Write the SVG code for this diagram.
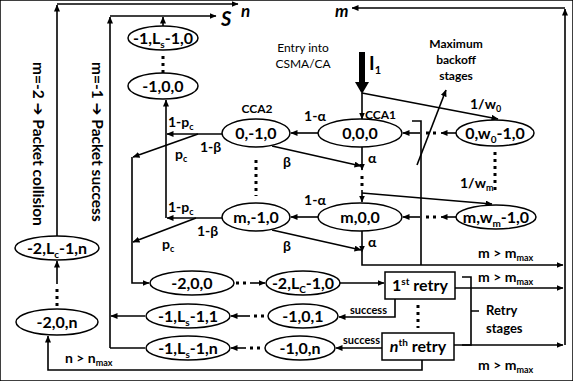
<svg xmlns="http://www.w3.org/2000/svg" width="573" height="381" viewBox="0 0 573 381">
<defs>
<marker id="a" markerWidth="7" markerHeight="6" refX="6.5" refY="3" orient="auto" markerUnits="userSpaceOnUse"><path d="M0,0 L7,3 L0,6 z" fill="#000"/></marker>
<style>
.ln{stroke:#000;stroke-width:1.6;fill:none}
.ar{stroke:#000;stroke-width:1.6;fill:none;marker-end:url(#a)}
.dt{stroke:#000;stroke-width:3;fill:none;stroke-dasharray:3,4}
ellipse,rect{fill:#fff;stroke:#000;stroke-width:1.5}
text{font-family:Lato,"Liberation Sans",sans-serif;font-weight:bold;fill:#000}
.n{font-size:16px;text-anchor:middle}
.l{font-size:14px}
.s{font-size:12px}
.c{text-anchor:middle}
</style>
</defs>
<rect x="0" y="0" width="573" height="381" fill="#fff" stroke="none"/>

<g id="connectors">
<path class="ar" d="M57,236 V5"/>
<path class="ar" d="M57,4 H238"/>
<path class="ar" d="M110,348 V17"/>
<path class="ar" d="M110,16 H216"/>
<path class="ln" d="M145,348 H110"/>
<path class="ar" d="M163,26 V17"/>
<path class="ar" d="M145,316 H111"/>
<path class="ar" d="M166,218 V100"/>
<path class="ar" d="M222,134 H167"/>
<path class="ar" d="M198,134 L133,157"/>
<path class="ar" d="M222,218 H167"/>
<path class="ar" d="M196,218 L133,242"/>
<path class="ar" d="M132,157 V283 H149"/>
<path class="dt" d="M163,56 V74"/>
<path class="ar" d="M57,284 V261"/>
<path class="dt" d="M57,289 V306"/>
<path class="ar" d="M422,360 V370 H48 V336"/>
<path class="ar" d="M318,133 H291"/>
<path class="ar" d="M272,146 L361,166"/>
<path class="ar" d="M362,147 V170"/>
<path class="dt" d="M362,176 V190"/>
<path class="ln" d="M362,190 V193"/>
<path class="ar" d="M362,193 V202"/>
<path class="ar" d="M362,193 L492,204"/>
<path class="ar" d="M318,217 H291"/>
<path class="ar" d="M272,230 L361,250"/>
<path class="ar" d="M362,231 V252"/>
<path class="ar" d="M362,252 V265 H563"/>
<path class="dt" d="M256,160 V196"/>
<path class="dt" d="M495,152 V192"/>
<path class="ar" d="M456,133 H441"/>
<path class="dt" d="M426,133 H438"/>
<path class="ar" d="M420,133 H403"/>
<path class="ar" d="M456,217 H441"/>
<path class="dt" d="M426,217 H438"/>
<path class="ar" d="M420,217 H403"/>
<path d="M362,52 V84" stroke="#000" stroke-width="6" fill="none"/>
<path d="M355,82 H369 L362,94 z" fill="#000"/>
<path class="ar" d="M362,93 V119"/>
<path class="ar" d="M362,93 L498,119"/>
<path class="ln" d="M412,121 H421 V265"/>
<path class="ar" d="M417,165 L446,90"/>
<path class="ar" d="M565,345 V9"/>
<path class="ar" d="M565,8 H352"/>
<path class="dt" d="M236,283 H250"/>
<path class="ar" d="M250,283 H265"/>
<path class="ar" d="M340,283 H384"/>
<path class="ar" d="M455,288 H563"/>
<path class="dt" d="M254,316 H268"/>
<path class="ar" d="M250,316 H231"/>
<path class="ar" d="M395,299 V317 H339"/>
<path class="ar" d="M382,348 H336"/>
<path class="dt" d="M250,348 H264"/>
<path class="ar" d="M246,348 H231"/>
<path class="ar" d="M454,345 H563"/>
<path class="dt" d="M418,305 V328"/>
<path class="ln" d="M462,277 H471 V345 H462 M471,311 H479"/>
</g>

<g id="n_m1_Ls_0"><ellipse cx="163" cy="38" rx="35" ry="12"/><text class="n" x="163" y="44">-1,L<tspan font-size="10" dy="4">s</tspan><tspan dy="-4">-1,0</tspan></text></g>
<g id="n_m1_0_0"><ellipse cx="163" cy="86" rx="35" ry="13"/><text class="n" x="163" y="92">-1,0,0</text></g>
<g id="n_m2_Lc_n"><ellipse cx="57" cy="248" rx="42" ry="12"/><text class="n" x="57" y="254">-2,L<tspan font-size="10" dy="4">c</tspan><tspan dy="-4">-1,n</tspan></text></g>
<g id="n_m2_0_n"><ellipse cx="57" cy="322" rx="41" ry="13"/><text class="n" x="57" y="328">-2,0,n</text></g>
<g id="n_0_m1_0"><ellipse cx="256" cy="133" rx="34" ry="14"/><text class="n" x="256" y="139">0,-1,0</text></g>
<g id="n_0_0_0"><ellipse cx="360" cy="133" rx="42" ry="14"/><text class="n" x="360" y="139">0,0,0</text></g>
<g id="n_0_w0"><ellipse cx="495" cy="133" rx="39" ry="13"/><text class="n" x="495" y="139">0,w<tspan font-size="10" dy="4">0</tspan><tspan dy="-4">-1,0</tspan></text></g>
<g id="n_m_m1_0"><ellipse cx="256" cy="217" rx="34" ry="14"/><text class="n" x="256" y="223">m,-1,0</text></g>
<g id="n_m_0_0"><ellipse cx="360" cy="217" rx="42" ry="14"/><text class="n" x="360" y="223">m,0,0</text></g>
<g id="n_m_wm"><ellipse cx="496" cy="217" rx="40" ry="12"/><text class="n" x="496" y="223">m,w<tspan font-size="10" dy="4">m</tspan><tspan dy="-4">-1,0</tspan></text></g>
<g id="n_m2_0_0"><ellipse cx="192" cy="283" rx="42" ry="12"/><text class="n" x="192" y="289">-2,0,0</text></g>
<g id="n_m2_Lc_0"><ellipse cx="303" cy="283" rx="37" ry="12"/><text class="n" x="303" y="289">-2,L<tspan font-size="10" dy="4">C</tspan><tspan dy="-4">-1,0</tspan></text></g>
<g id="n_m1_Ls_1"><ellipse cx="188" cy="316" rx="42" ry="12"/><text class="n" x="188" y="322">-1,L<tspan font-size="10" dy="4">s</tspan><tspan dy="-4">-1,1</tspan></text></g>
<g id="n_m1_0_1"><ellipse cx="303" cy="316" rx="35" ry="12"/><text class="n" x="303" y="322">-1,0,1</text></g>
<g id="n_m1_Ls_n"><ellipse cx="188" cy="348" rx="42" ry="12"/><text class="n" x="188" y="354">-1,L<tspan font-size="10" dy="4">s</tspan><tspan dy="-4">-1,n</tspan></text></g>
<g id="n_m1_0_n"><ellipse cx="300" cy="348" rx="35" ry="12"/><text class="n" x="300" y="354">-1,0,n</text></g>
<g id="n_retry1"><rect x="385" y="272" width="70" height="27"/><text class="n" x="420" y="291">1<tspan font-size="10" dy="-6">st</tspan><tspan dy="6"> retry</tspan></text></g>
<g id="n_retryn"><rect x="382" y="333" width="72" height="27"/><text class="n" x="418" y="352"><tspan font-style="italic">n</tspan><tspan font-size="10" dy="-6">th</tspan><tspan dy="6"> retry</tspan></text></g>

<g id="labels">
<text class="l" style="font-style:italic;font-size:17px" x="241" y="17">n</text>
<text class="l" style="font-style:italic;font-size:20px" x="221" y="26">S</text>
<text class="l" style="font-style:italic;font-size:17px" x="335" y="17">m</text>
<text class="l" style="font-size:15.5px" transform="translate(33,62) rotate(90)">m=-2 <tspan font-family="DejaVu Sans">➔</tspan> Packet collision</text>
<text class="l" style="font-size:15.5px" transform="translate(92,62) rotate(90)">m=-1 <tspan font-family="DejaVu Sans">➔</tspan> Packet success</text>
<text class="s c" style="font-weight:normal" x="303" y="52">Entry into</text>
<text class="s c" style="font-weight:normal" x="303" y="68">CSMA/CA</text>
<text class="s c" x="456" y="48">Maximum</text>
<text class="s c" x="456" y="64">backoff</text>
<text class="s c" x="456" y="80">stages</text>
<text class="l" style="font-size:19px" x="369" y="70">I<tspan font-size="11" dy="4">1</tspan></text>
<text class="s c" x="257" y="113">CCA2</text>
<text class="s" x="365" y="119">CCA1</text>
<text class="l" x="470" y="109">1/w<tspan font-size="9" dy="3">0</tspan></text>
<text class="l" x="460" y="188">1/w<tspan font-size="9" dy="3">m</tspan></text>
<text class="l c" x="315" y="121">1-α</text>
<text class="l c" x="315" y="205">1-α</text>
<text class="l" x="283" y="167">β</text>
<text class="l" x="283" y="251">β</text>
<text class="l" x="368" y="163">α</text>
<text class="l" x="368" y="247">α</text>
<text class="l" x="168" y="127">1-p<tspan font-size="9" dy="3">c</tspan></text>
<text class="l" x="200" y="152">1-β</text>
<text class="l" x="175" y="159">p<tspan font-size="9" dy="3">c</tspan></text>
<text class="l" x="168" y="212">1-p<tspan font-size="9" dy="3">c</tspan></text>
<text class="l" x="197" y="236">1-β</text>
<text class="l" x="162" y="249">p<tspan font-size="9" dy="3">c</tspan></text>
<text class="l" x="478" y="258">m &gt; m<tspan font-size="9" dy="3">max</tspan></text>
<text class="l" x="478" y="282">m &gt; m<tspan font-size="9" dy="3">max</tspan></text>
<text class="l" x="478" y="370">m &gt; m<tspan font-size="9" dy="3">max</tspan></text>
<text class="l" x="65" y="363">n &gt; n<tspan font-size="9" dy="3">max</tspan></text>
<text class="s" style="font-size:11px" x="350" y="314">success</text>
<text class="s" style="font-size:11px" x="343" y="344">success</text>
<text class="l" style="font-size:13px" x="486" y="315">Retry</text>
<text class="l" style="font-size:13px" x="486" y="333">stages</text>
</g>
</svg>
